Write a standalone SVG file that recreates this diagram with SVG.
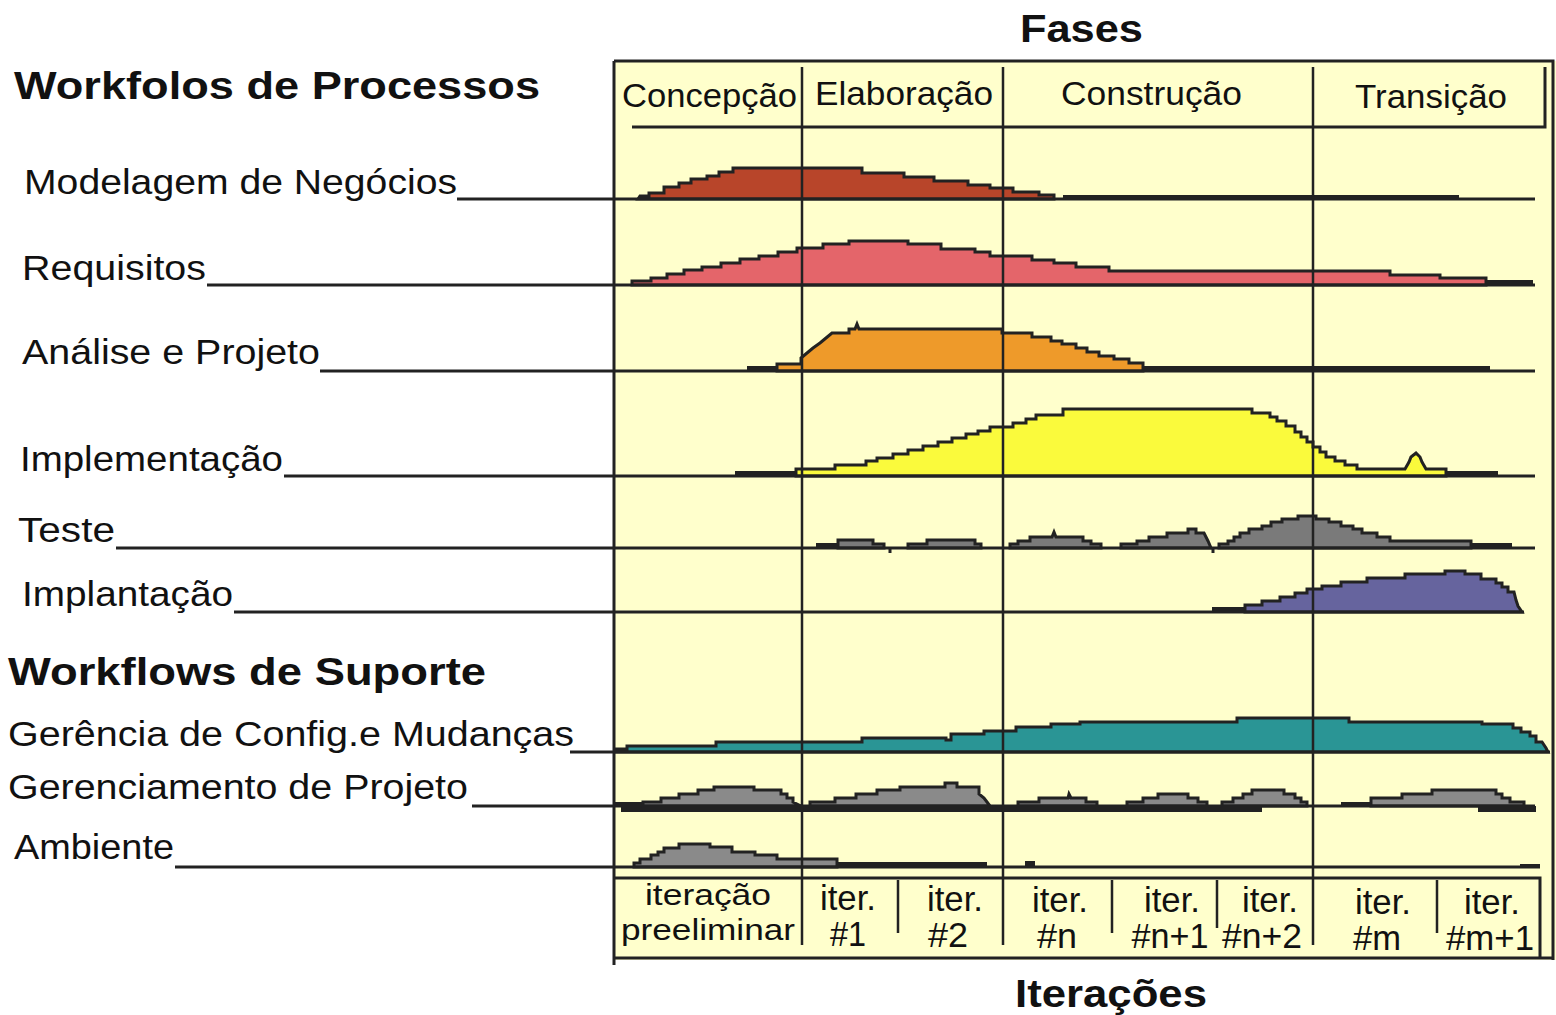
<svg xmlns="http://www.w3.org/2000/svg" width="1556" height="1015" viewBox="0 0 1556 1015">
<style>
text{font-family:"Liberation Sans",Arial,sans-serif;fill:#111}
.t{font-weight:bold;font-size:38px}
.l{font-size:35px}
.h{font-size:34px}
.i{font-size:35px;text-anchor:middle}
.ip{font-size:30px;text-anchor:middle}
.ln{stroke:#222;stroke-width:3;fill:none}
.ph{stroke:#222;stroke-width:2.5;fill:none}
.hp{stroke:#222;stroke-width:3;stroke-linejoin:miter}
.bar{fill:#222}
</style>
<rect width="1556" height="1015" fill="#fff"/>
<g id="frame">
<rect x="614" y="61" width="942" height="899" fill="#FFFFCC"/>
<path class="ln" d="M614 61 H1553 V960 M614 61 V965 M614 958 H1553"/>
</g>
<g id="titles">
<text class="t" x="1020" y="42" textLength="123" lengthAdjust="spacingAndGlyphs">Fases</text>
<text class="t" x="1015" y="1007" textLength="192" lengthAdjust="spacingAndGlyphs">Iterações</text>
<text class="t" x="14" y="99" textLength="526" lengthAdjust="spacingAndGlyphs">Workfolos de Processos</text>
<text class="t" x="8" y="685" textLength="478" lengthAdjust="spacingAndGlyphs">Workflows de Suporte</text>
</g>
<g id="phases">
<path class="ln" d="M632 127 H1545 V67"/>
<text class="h" x="622" y="107" textLength="175" lengthAdjust="spacingAndGlyphs">Concepção</text>
<text class="h" x="815" y="105" textLength="178" lengthAdjust="spacingAndGlyphs">Elaboração</text>
<text class="h" x="1061" y="105" textLength="181" lengthAdjust="spacingAndGlyphs">Construção</text>
<text class="h" x="1355" y="108" textLength="152" lengthAdjust="spacingAndGlyphs">Transição</text>
</g>
<g id="wf-modelagem">
<polygon class="hp" fill="#B8452A" points="638,199 640,196 649,196 649,193 664,193 664,187 679,187 679,183 691,183 691,179 707,179 707,176 719,176 719,172 733,172 733,168 862,168 862,173 904,173 904,177 934,177 934,181 968,181 968,185 990,185 990,188 1013,188 1013,192 1039,192 1039,195 1054,195 1054,199"/>
<rect class="bar" x="1063" y="195" width="396" height="5"/>
<path class="ln" d="M457 199 H1535"/>
<text class="l" x="24" y="194" textLength="433" lengthAdjust="spacingAndGlyphs">Modelagem de Negócios</text>
</g>
<g id="wf-requisitos">
<polygon class="hp" fill="#E4656A" points="632,285 632,281 651,281 651,278 667,278 667,274 684,274 684,270 702,270 702,267 721,267 721,263 740,263 740,259 759,259 759,256 778,256 778,252 797,252 797,248 823,248 823,244 849,244 849,241 908,241 908,244 941,244 941,249 975,249 975,252 990,252 990,256 1032,256 1032,260 1054,260 1054,263 1076,263 1076,267 1109,267 1109,271 1390,271 1390,275 1440,275 1440,278 1486,278 1486,285"/>
<rect class="bar" x="1486" y="280" width="47" height="6"/>
<path class="ln" d="M207 285 H1535"/>
<text class="l" x="22" y="280" textLength="184" lengthAdjust="spacingAndGlyphs">Requisitos</text>
</g>
<g id="wf-analise">
<rect class="bar" x="747" y="366" width="30" height="6"/>
<polygon class="hp" fill="#EE9A2A" points="777,371 777,364 801,364 801,358 807,353 813,348 820,343 826,338 832,333 849,333 849,329 855,329 857,324 859,329 1002,329 1002,333 1032,333 1032,337 1051,337 1051,341 1062,341 1062,344 1076,344 1076,348 1087,348 1087,352 1099,352 1099,356 1114,356 1114,359 1129,359 1129,363 1143,363 1143,371"/>
<rect class="bar" x="1143" y="366" width="347" height="6"/>
<path class="ln" d="M320 371 H1535"/>
<text class="l" x="22" y="364" textLength="298" lengthAdjust="spacingAndGlyphs">Análise e Projeto</text>
</g>
<g id="wf-implementacao">
<rect class="bar" x="735" y="471" width="61" height="6"/>
<polygon class="hp" fill="#FAFA3C" points="796,476 796,469 835,469 835,465 866,465 866,461 877,461 877,458 893,458 893,454 908,454 908,450 923,450 923,446 938,446 938,442 952,442 952,438 966,438 966,434 978,434 978,431 990,431 990,427 1013,427 1013,423 1026,423 1026,419 1036,419 1036,415 1063,415 1063,409 1252,409 1252,413 1270,413 1270,417 1277,417 1277,421 1286,421 1286,426 1295,426 1295,432 1301,432 1301,437 1307,437 1307,442 1313,442 1313,447 1320,447 1320,452 1326,452 1326,457 1335,457 1335,461 1345,461 1345,465 1357,465 1357,469 1405,469 1409,462 1411,457 1416,453 1420,457 1422,462 1426,469 1446,469 1446,476"/>
<rect class="bar" x="1446" y="471" width="52" height="6"/>
<path class="ln" d="M284 476 H1535"/>
<text class="l" x="20" y="471" textLength="263" lengthAdjust="spacingAndGlyphs">Implementação</text>
</g>
<g id="wf-teste">
<rect class="bar" x="816" y="543" width="22" height="5"/>
<polygon class="hp" fill="#7A7A7A" points="838,548 838,540 873,540 873,544 884,544 884,548"/>
<polygon class="hp" fill="#7A7A7A" points="908,548 908,544 927,544 927,540 975,540 975,544 981,544 981,548"/>
<polygon class="hp" fill="#7A7A7A" points="1010,548 1010,544 1018,544 1018,541 1030,541 1030,537 1052,537 1054,532 1056,537 1083,537 1083,541 1091,541 1091,544 1101,544 1101,548"/>
<polygon class="hp" fill="#7A7A7A" points="1121,548 1121,544 1137,544 1137,541 1149,541 1149,537 1167,537 1167,533 1188,533 1188,529 1196,529 1196,533 1204,533 1208,541 1211,548"/>
<polygon class="hp" fill="#7A7A7A" points="1219,548 1219,544 1228,544 1228,541 1234,541 1234,537 1240,537 1240,533 1249,533 1249,529 1262,529 1262,526 1271,526 1271,522 1282,522 1282,519 1298,519 1298,516 1316,516 1316,519 1329,519 1329,522 1341,522 1341,526 1353,526 1353,529 1362,529 1362,533 1377,533 1377,537 1390,537 1390,541 1471,541 1471,548"/>
<rect class="bar" x="1471" y="543" width="41" height="5"/>
<path class="ln" d="M116 548 H1535 M890 548 V553 M1213 548 V553"/>
<text class="l" x="18" y="542" textLength="97" lengthAdjust="spacingAndGlyphs">Teste</text>
</g>
<g id="wf-implantacao">
<rect class="bar" x="1212" y="607" width="33" height="5"/>
<polygon class="hp" fill="#66649E" points="1245,612 1245,605 1262,605 1262,601 1280,601 1280,597 1295,597 1295,593 1307,593 1307,589 1322,589 1322,586 1341,586 1341,582 1367,582 1367,578 1405,578 1405,574 1445,574 1445,571 1465,571 1465,574 1481,574 1481,579 1496,579 1496,583 1502,583 1502,587 1508,587 1508,592 1514,592 1516,600 1518,606 1522,612"/>
<path class="ln" d="M234 612 H1524"/>
<text class="l" x="22" y="606" textLength="211" lengthAdjust="spacingAndGlyphs">Implantação</text>
</g>
<g id="wf-config">
<polygon class="hp" fill="#2A9595" points="615,752 615,749 627,749 627,746 716,746 716,742 862,742 862,738 946,738 946,740 951,740 951,734 984,734 984,731 1016,731 1016,727 1051,727 1051,724 1080,724 1080,722 1237,722 1237,718 1349,718 1349,722 1482,722 1482,724 1513,724 1513,728 1521,728 1521,732 1530,732 1530,736 1536,736 1536,742 1542,742 1546,748 1548,752"/>
<path class="ln" d="M570 752 H1550"/>
<text class="l" x="8" y="746" textLength="566" lengthAdjust="spacingAndGlyphs">Gerência de Config.e Mudanças</text>
</g>
<g id="wf-projeto">
<rect class="bar" x="621" y="806" width="641" height="6"/>
<rect class="bar" x="1478" y="806" width="58" height="6"/>
<rect class="bar" x="615" y="802" width="28" height="5"/>
<polygon class="hp" fill="#8A8A8A" points="643,806 643,802 661,802 661,798 679,798 679,794 698,794 698,790 714,790 714,787 754,787 754,790 781,790 781,794 787,794 787,798 793,798 793,802 801,806"/>
<polygon class="hp" fill="#8A8A8A" points="810,806 810,802 835,802 835,798 856,798 856,794 877,794 877,790 900,790 900,787 945,787 945,783 957,783 957,787 979,787 979,794 984,798 987,802 990,806"/>
<polygon class="hp" fill="#8A8A8A" points="1018,806 1018,802 1039,802 1039,798 1068,798 1069,794 1071,798 1086,798 1086,802 1097,802 1097,806"/>
<polygon class="hp" fill="#8A8A8A" points="1127,806 1127,802 1143,802 1143,798 1158,798 1158,794 1188,794 1188,798 1198,798 1198,802 1207,802 1207,806"/>
<polygon class="hp" fill="#8A8A8A" points="1222,806 1222,802 1233,802 1233,798 1243,798 1243,794 1252,794 1252,790 1284,790 1284,794 1295,794 1295,798 1301,798 1301,802 1307,802 1307,806"/>
<rect class="bar" x="1341" y="802" width="30" height="5"/>
<polygon class="hp" fill="#8A8A8A" points="1371,806 1371,798 1402,798 1402,794 1432,794 1432,790 1496,790 1496,794 1502,794 1502,798 1510,798 1510,802 1524,802 1524,806"/>
<path class="ln" d="M472 806 H1535"/>
<text class="l" x="8" y="799" textLength="460" lengthAdjust="spacingAndGlyphs">Gerenciamento de Projeto</text>
</g>
<g id="wf-ambiente">
<polygon class="hp" fill="#8A8A8A" points="634,867 634,863 640,863 640,859 651,859 651,855 658,855 658,852 664,852 664,848 679,848 679,844 710,844 710,847 732,847 732,852 755,852 755,855 777,855 777,859 837,859 837,867"/>
<rect class="bar" x="837" y="862" width="150" height="5"/>
<rect class="bar" x="1025" y="861" width="10" height="6"/>
<rect class="bar" x="1520" y="864" width="20" height="4"/>
<path class="ln" d="M175 867 H1540"/>
<text class="l" x="14" y="859" textLength="160" lengthAdjust="spacingAndGlyphs">Ambiente</text>
</g>
<g id="phase-lines">
<path class="ph" d="M802 67 V945 M1003 67 V945 M1313 67 V945"/>
</g>
<g id="iterations">
<path class="ln" d="M614 878 H1540 V958"/>
<path class="ph" d="M898 880 V933 M1112 880 V933 M1217 880 V928 M1437 880 V933"/>
<text class="ip" x="708" y="905" textLength="126" lengthAdjust="spacingAndGlyphs">iteração</text>
<text class="ip" x="708" y="940" textLength="174" lengthAdjust="spacingAndGlyphs">preeliminar</text>
<text class="i" x="848" y="910" textLength="56" lengthAdjust="spacingAndGlyphs">iter.</text>
<text class="i" x="848" y="946" textLength="36" lengthAdjust="spacingAndGlyphs">#1</text>
<text class="i" x="955" y="911" textLength="56" lengthAdjust="spacingAndGlyphs">iter.</text>
<text class="i" x="948" y="947" textLength="40" lengthAdjust="spacingAndGlyphs">#2</text>
<text class="i" x="1060" y="912" textLength="56" lengthAdjust="spacingAndGlyphs">iter.</text>
<text class="i" x="1057" y="948" textLength="40" lengthAdjust="spacingAndGlyphs">#n</text>
<text class="i" x="1172" y="912" textLength="56" lengthAdjust="spacingAndGlyphs">iter.</text>
<text class="i" x="1170" y="948" textLength="77" lengthAdjust="spacingAndGlyphs">#n+1</text>
<text class="i" x="1270" y="912" textLength="56" lengthAdjust="spacingAndGlyphs">iter.</text>
<text class="i" x="1262" y="948" textLength="80" lengthAdjust="spacingAndGlyphs">#n+2</text>
<text class="i" x="1383" y="914" textLength="56" lengthAdjust="spacingAndGlyphs">iter.</text>
<text class="i" x="1377" y="950" textLength="48" lengthAdjust="spacingAndGlyphs">#m</text>
<text class="i" x="1492" y="914" textLength="56" lengthAdjust="spacingAndGlyphs">iter.</text>
<text class="i" x="1490" y="950" textLength="88" lengthAdjust="spacingAndGlyphs">#m+1</text>
</g>
</svg>
